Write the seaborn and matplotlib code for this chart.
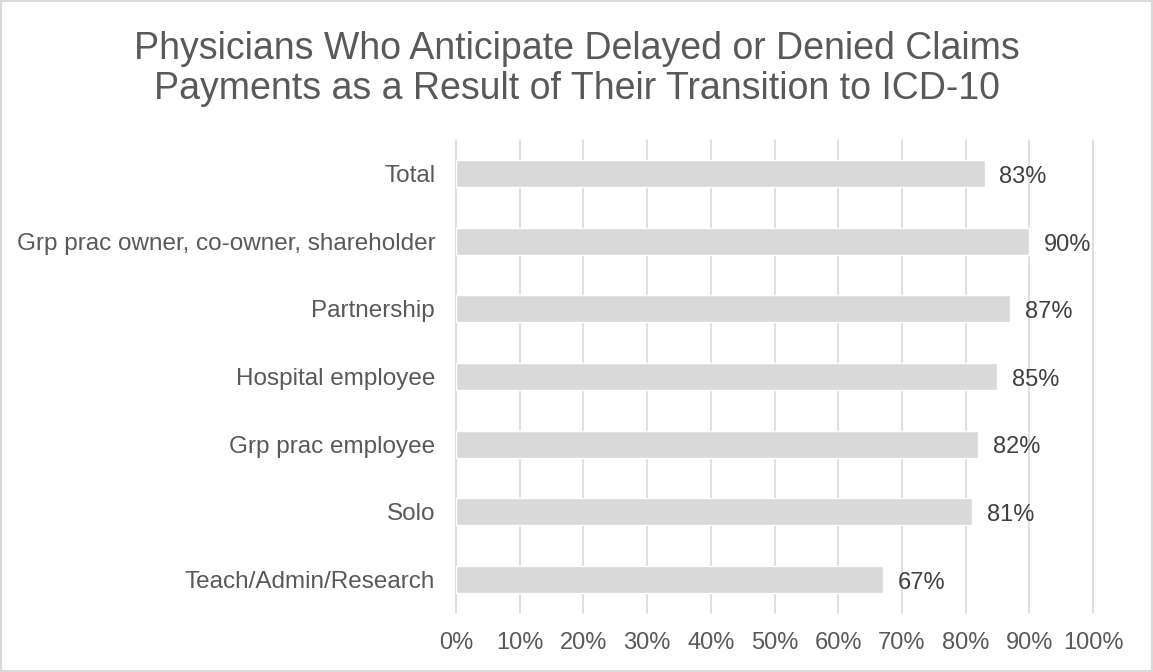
import matplotlib
matplotlib.use("Agg")
import matplotlib.pyplot as plt
import seaborn as sns
import pandas as pd
from matplotlib.ticker import PercentFormatter, MultipleLocator

categories = ["Total", "Grp prac owner, co-owner, shareholder", "Partnership",
              "Hospital employee", "Grp prac employee", "Solo", "Teach/Admin/Research"]
values = [83, 90, 87, 85, 82, 81, 67]
title = "Physicians Who Anticipate Delayed or Denied Claims\nPayments as a Result of Their Transition to ICD-10"

sns.set_theme(style="white")
plt.rcParams['font.family'] = ['Liberation Sans', 'DejaVu Sans']

df = pd.DataFrame({"cat": categories, "val": values})

fig = plt.figure(figsize=(11.53, 6.72), dpi=100)
ax = fig.add_axes([0.3955, 0.0878, 0.5525, 0.704])

sns.barplot(data=df, y="cat", x="val", orient="h", color="#D9D9D9",
            saturation=1, width=0.4, ax=ax, zorder=3)

ax.set_xlim(0, 100)
ax.xaxis.set_major_locator(MultipleLocator(10))
ax.xaxis.set_major_formatter(PercentFormatter(decimals=0))
ax.grid(axis="x", color="#D9D9D9", linewidth=1.2, zorder=0)
for gl in ax.get_xgridlines():
    gl.set_clip_on(False)
ax.set_axisbelow(True)
for s in ax.spines.values():
    s.set_visible(False)
ax.set_xlabel("")
ax.set_ylabel("")
ax.tick_params(axis="x", length=0, labelsize=17, colors="#595959", pad=14)
ax.tick_params(axis="y", length=0, labelsize=17.5, colors="#595959", pad=15)

for i, v in enumerate(values):
    ax.text(v + 2.3, i + 0.05, f"{v}%", va="center", ha="left", fontsize=17, color="#404040")

fig.text(0.5, 0.897, title, ha="center", va="center", fontsize=27, color="#595959",
         linespacing=1.16)

border = plt.Rectangle((0.001, 0.001), 0.998, 0.998, transform=fig.transFigure,
                       fill=False, edgecolor="#D9D9D9", linewidth=1.5)
fig.patches.append(border)

fig.savefig("out.png", dpi=100, facecolor="white")
